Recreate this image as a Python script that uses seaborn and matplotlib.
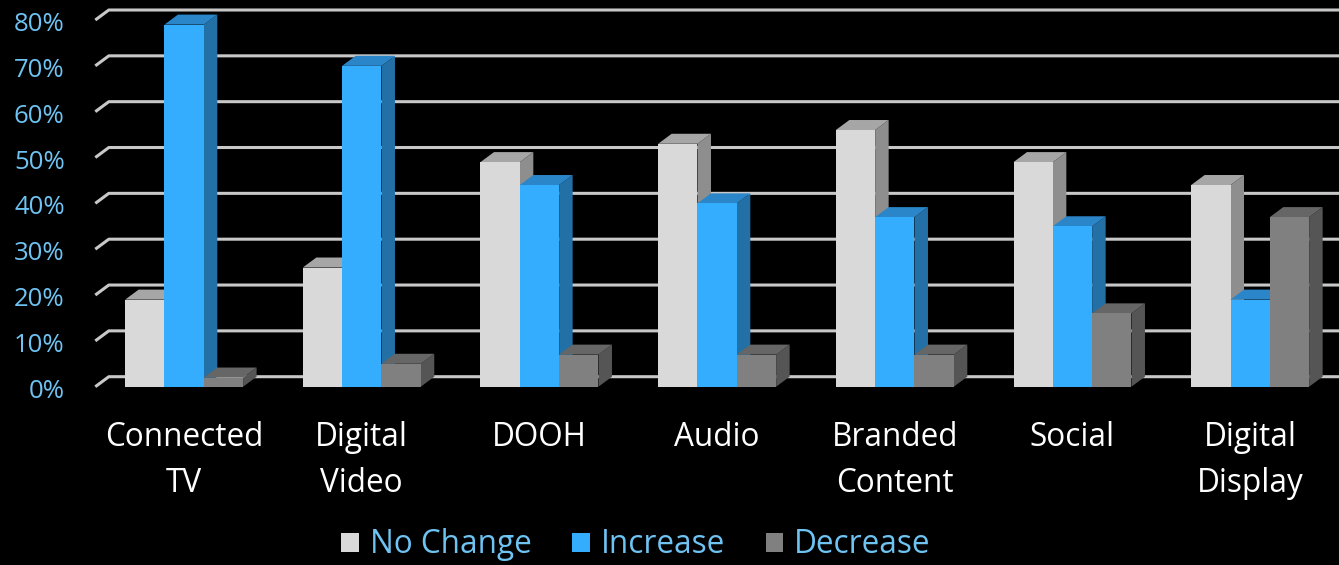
import matplotlib
matplotlib.use("Agg")
import matplotlib.pyplot as plt
from matplotlib.patches import Polygon, Patch
from matplotlib.lines import Line2D
from matplotlib.transforms import ScaledTranslation
import seaborn as sns
import pandas as pd
import numpy as np

# Share of respondents expecting each spend change, by channel (%)
categories = ["Connected\nTV", "Digital\nVideo", "DOOH", "Audio",
              "Branded\nContent", "Social", "Digital\nDisplay"]
series = ["No Change", "Increase", "Decrease"]
no_change = [19, 26, 49, 53, 56, 49, 44]
increase = [79, 70, 44, 40, 37, 35, 19]
decrease = [2, 5, 7, 7, 7, 16, 37]
y_ticks = [0, 10, 20, 30, 40, 50, 60, 70, 80]

df = pd.DataFrame({
    "channel": categories * 3,
    "change": [series[0]] * 7 + [series[1]] * 7 + [series[2]] * 7,
    "pct": no_change + increase + decrease,
})

front = {"No Change": "#D9D9D9", "Increase": "#35ADFF", "Decrease": "#808080"}
top_c = {"No Change": "#A6A6A6", "Increase": "#2A86C8", "Decrease": "#666666"}
side_c = {"No Change": "#8E8E8E", "Increase": "#2270A6", "Decrease": "#555555"}
text_blue = "#6EC3F2"

sns.set_theme(style="dark")
plt.rcParams["font.family"] = ["Open Sans", "DejaVu Sans"]

W, H, DPI = 1339, 565, 100
fig = plt.figure(figsize=(W / DPI, H / DPI), dpi=DPI, facecolor="black")
base_px = 386.7
px_per_pct = 366.7 / 80
ax = fig.add_axes([95.3 / W, (H - base_px) / H, (W - 95.3) / W, base_px / H])
ax.set_facecolor("black")

sns.barplot(data=df, x="channel", y="pct", hue="change", hue_order=series,
            palette=front, width=0.664, gap=0, saturation=1, legend=False,
            ax=ax, zorder=3)

ax.set_xlim(-0.5, 6.5)
ax.set_ylim(0, base_px / px_per_pct)
for s in ax.spines.values():
    s.set_visible(False)
ax.grid(False)

# depth offset of the pseudo-3D faces, converted from pixels to data units
fig.canvas.draw()
o = ax.transData.transform((0, 0))
p = ax.transData.inverted().transform((o[0] + 13.5, o[1] + 10))
ddx, ddy = p[0], p[1]

# back-wall gridlines with the floor diagonal at the left
for v in y_ticks:
    ax.add_line(Line2D([-0.5, -0.5 + ddx, 6.6], [v, v + ddy, v + ddy],
                       color="#C8C8C8", lw=2.2, zorder=1, clip_on=False,
                       solid_capstyle="butt"))

# extrude each bar: side and top faces behind its front face, left to right
bars = []
for cont, name in zip(ax.containers, series):
    for r in cont:
        bars.append((r.get_x(), r, name))
bars.sort(key=lambda t: t[0])
for k, (_, r, name) in enumerate(bars):
    x0, w, h = r.get_x(), r.get_width(), r.get_height()
    x1 = x0 + w
    z = 3 + k * 0.01
    ax.add_patch(Polygon([(x1, 0), (x1 + ddx, ddy), (x1 + ddx, h + ddy), (x1, h)],
                         closed=True, facecolor=side_c[name], edgecolor="none",
                         zorder=z, clip_on=False))
    ax.add_patch(Polygon([(x0, h), (x0 + ddx, h + ddy), (x1 + ddx, h + ddy), (x1, h)],
                         closed=True, facecolor=top_c[name], edgecolor="none",
                         zorder=z, clip_on=False))
    r.set_zorder(z + 0.005)
    r.set_edgecolor("none")
    r.set_clip_on(False)

ax.set_yticks(y_ticks)
ax.set_yticklabels([f"{v}%" for v in y_ticks], color=text_blue, fontsize=18.5)
ax.tick_params(axis="y", length=0, pad=22)
ax.tick_params(axis="x", length=0, pad=25, labelsize=22.7, labelcolor="white")
for lbl in ax.get_xticklabels():
    lbl.set_linespacing(1.5)
shift = ScaledTranslation(0, -0.045, fig.dpi_scale_trans)
for lbl in ax.get_yticklabels():
    lbl.set_verticalalignment("center")
    lbl.set_transform(lbl.get_transform() + shift)
ax.set_xlabel("")
ax.set_ylabel("")

handles = [Patch(facecolor=front[s], edgecolor="none", label=s) for s in series]
fig.legend(handles=handles, loc="center", bbox_to_anchor=(636 / W, 0.036),
           ncol=3, frameon=False, fontsize=22.7, labelcolor=text_blue,
           handlelength=0.55, handleheight=0.55, handletextpad=0.35,
           columnspacing=1.3, borderaxespad=0, borderpad=0)

fig.savefig("out.png", dpi=DPI, facecolor="black")
